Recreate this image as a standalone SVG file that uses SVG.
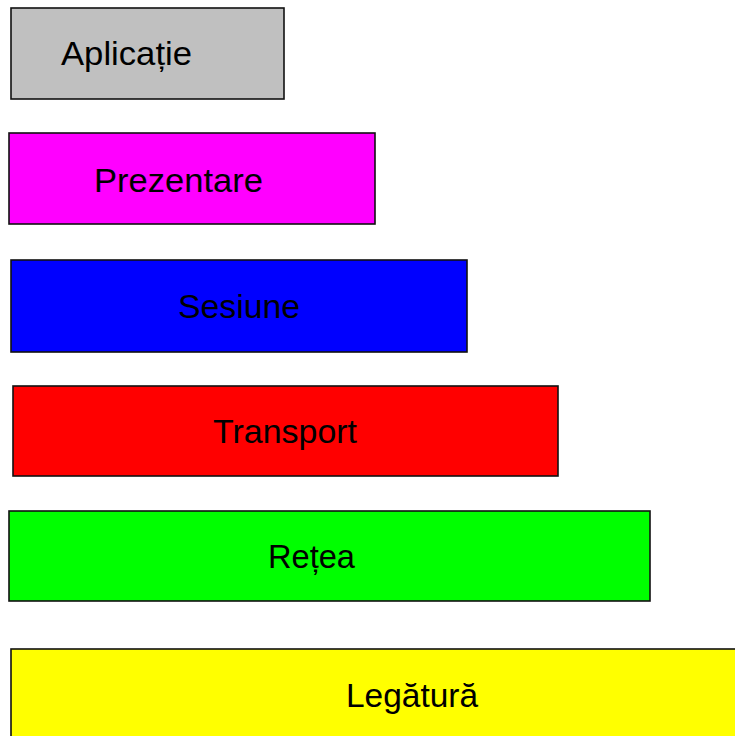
<svg xmlns="http://www.w3.org/2000/svg" width="735" height="736" viewBox="0 0 735 736">
  <style>
    .layer rect { stroke: #111; stroke-width: 1.6; }
    .layer text { font-family: "Liberation Sans", Arial, sans-serif; font-size: 34px; fill: #000; }
  </style>
  <rect x="0" y="0" width="735" height="736" fill="#ffffff"/>

  <!-- OSI layers, top to bottom -->
  <g id="aplicatie" class="layer">
    <rect x="11" y="8" width="273" height="91" fill="#c0c0c0"/>
    <text x="61" y="65" textLength="131" lengthAdjust="spacingAndGlyphs">Aplicație</text>
  </g>
  <g id="prezentare" class="layer">
    <rect x="9" y="133" width="366" height="91" fill="#ff00ff"/>
    <text x="94" y="192" textLength="169" lengthAdjust="spacingAndGlyphs">Prezentare</text>
  </g>
  <g id="sesiune" class="layer">
    <rect x="11" y="260" width="456" height="92" fill="#0000ff"/>
    <text x="178" y="318" textLength="122" lengthAdjust="spacingAndGlyphs">Sesiune</text>
  </g>
  <g id="transport" class="layer">
    <rect x="13" y="386" width="545" height="90" fill="#ff0000"/>
    <text x="213" y="443" textLength="144" lengthAdjust="spacingAndGlyphs">Transport</text>
  </g>
  <g id="retea" class="layer">
    <rect x="9" y="511" width="641" height="90" fill="#00ff00"/>
    <text x="268" y="568" textLength="87" lengthAdjust="spacingAndGlyphs">Rețea</text>
  </g>
  <g id="legatura" class="layer">
    <rect x="11" y="649" width="730" height="100" fill="#ffff00"/>
    <text x="346" y="707" textLength="132" lengthAdjust="spacingAndGlyphs">Legătură</text>
  </g>

  <!-- no connectors between the layers -->
  <g id="connectors"/>
</svg>
